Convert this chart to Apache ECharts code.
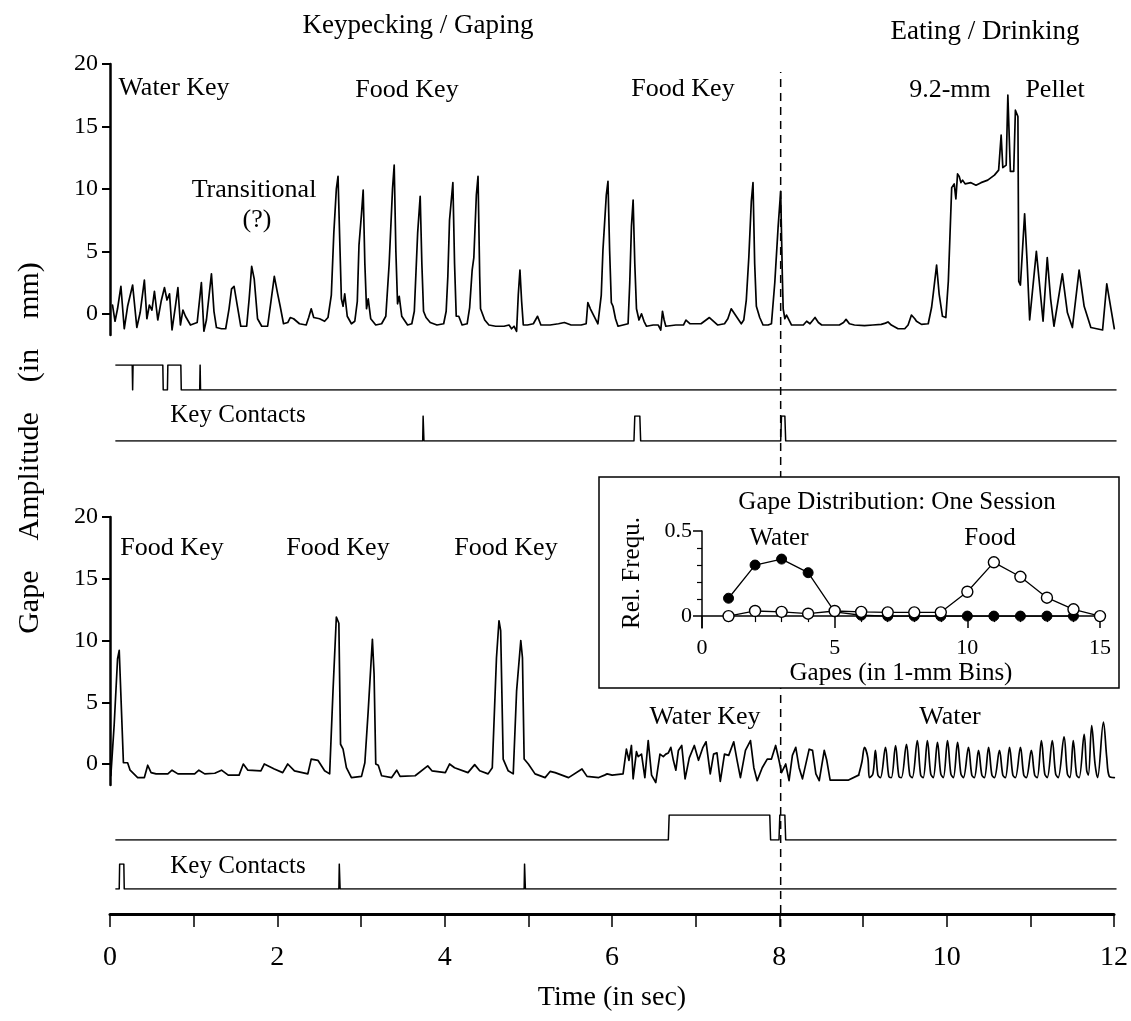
<!DOCTYPE html>
<html>
<head>
<meta charset="utf-8">
<script src="https://cdn.jsdelivr.net/npm/echarts@6/dist/echarts.min.js"></script>
<style>
  html, body { margin: 0; padding: 0; background: #fff; }
  #chart { width: 1131px; height: 1021px; }
</style>
</head>
<body>
<div id="chart"></div>
<script>
// ---- Gape traces: [time (s), gape (mm)] ----
const upperGape = [
  [0.03,0.7],[0.06,-0.6],[0.09,0.4],[0.13,2.2],[0.17,-1.2],[0.21,0.6],[0.27,2.3],[0.32,-1.1],[0.36,0.1],[0.41,2.7],
  [0.44,-0.4],[0.47,0.7],[0.50,0.3],[0.53,1.8],[0.57,-0.5],[0.61,1.0],[0.65,2.1],[0.68,1.1],[0.71,1.6],[0.74,-1.3],
  [0.78,0.6],[0.81,2.1],[0.84,-0.9],[0.87,0.3],[0.90,-0.2],[0.96,-0.9],[1.04,-0.7],[1.09,2.5],[1.12,-1.4],[1.15,-0.5],
  [1.21,3.2],[1.24,0.2],[1.27,-1.1],[1.33,-1.2],[1.38,-1.2],[1.42,0.4],[1.45,2.0],[1.48,2.2],[1.52,0.6],[1.56,-1.0],
  [1.63,-1.0],[1.66,1.2],[1.69,3.8],[1.72,2.8],[1.76,-0.4],[1.81,-1.0],[1.88,-1.0],[1.92,1.0],[1.96,3.0],[2.00,1.6],
  [2.03,0.6],[2.07,-0.8],[2.12,-0.7],[2.15,-0.3],[2.19,-0.4],[2.26,-0.8],[2.34,-0.9],[2.37,-0.3],[2.40,0.4],[2.43,-0.3],
  [2.50,-0.4],[2.56,-0.6],
  [2.60,-0.3],[2.64,1.5],[2.67,6.5],[2.70,10.0],[2.72,11.0],[2.74,6.0],[2.76,1.2],[2.78,0.6],[2.80,1.6],[2.83,-0.2],
  [2.88,-0.8],[2.92,-0.6],[2.95,1.0],[2.97,5.5],[3.00,8.0],[3.02,9.9],[3.04,4.0],[3.06,0.4],[3.08,1.2],[3.11,-0.4],
  [3.17,-0.9],[3.24,-0.8],[3.29,-0.2],[3.33,4.0],[3.37,10.0],[3.39,11.9],[3.41,5.0],[3.43,0.8],[3.45,1.4],[3.48,-0.2],
  [3.55,-0.9],[3.60,-0.8],[3.63,0.2],[3.67,6.5],[3.70,9.4],[3.72,4.0],[3.74,0.2],[3.77,-0.3],[3.82,-0.7],[3.90,-0.9],
  [3.98,-0.8],[4.01,0.2],[4.03,3.0],[4.05,7.5],[4.09,10.5],[4.11,4.0],[4.13,-0.2],[4.16,-0.2],[4.20,-0.9],[4.26,-0.8],
  [4.29,0.5],[4.32,3.5],[4.34,4.5],[4.37,9.5],[4.39,11.0],[4.41,3.0],[4.42,0.4],[4.44,0.3],[4.47,-0.5],[4.52,-0.9],
  [4.60,-1.0],[4.70,-1.0],[4.76,-0.9],[4.79,-1.2],[4.82,-1.0],[4.85,-1.4],[4.87,1.5],[4.89,3.5],[4.91,1.0],[4.93,-0.9],
  [4.98,-0.9],[5.05,-0.8],[5.10,-0.2],[5.14,-0.9],[5.25,-0.9],[5.35,-0.8],[5.42,-0.7],[5.50,-0.9],[5.62,-0.9],[5.68,-0.8],
  [5.70,0.9],[5.73,0.4],[5.76,0.0],[5.82,-0.8],[5.86,1.5],[5.88,5.1],[5.92,9.5],[5.94,10.6],[5.96,5.0],[5.98,0.9],
  [6.00,0.6],[6.03,-0.4],[6.06,-1.0],[6.12,-0.9],[6.18,-0.8],[6.20,2.5],[6.22,7.0],[6.24,9.1],[6.26,4.0],[6.28,0.4],
  [6.31,-0.5],[6.34,0.0],[6.37,-0.6],[6.40,-1.0],[6.48,-0.9],[6.54,-0.9],[6.57,-1.3],[6.59,0.2],[6.61,-0.5],[6.63,-1.0],
  [6.75,-0.9],[6.84,-0.9],[6.87,-0.5],[6.92,-0.8],[6.97,-0.8],[7.05,-0.8],[7.15,-0.3],[7.20,-0.6],[7.25,-0.9],[7.33,-0.8],
  [7.37,-0.4],[7.41,0.4],[7.46,-0.1],[7.53,-0.8],[7.56,-0.5],[7.59,1.1],[7.62,4.5],[7.65,9.0],[7.67,10.5],[7.69,4.0],
  [7.71,0.6],[7.75,-0.3],[7.79,-0.9],[7.85,-0.9],[7.89,-0.8],[7.93,2.5],[7.97,7.0],[8.00,9.8],[8.02,3.0],[8.03,0.4],
  [8.05,-0.4],[8.07,-0.1],[8.10,-0.5],[8.13,-0.9],[8.20,-0.9],[8.27,-0.9],[8.31,-0.6],[8.35,-0.8],[8.41,-0.3],[8.45,-0.7],
  [8.49,-0.9],[8.60,-0.9],[8.70,-0.9],[8.75,-0.7],[8.78,-0.45],[8.82,-0.8],[8.88,-0.9],[9.00,-0.95],[9.10,-0.9],[9.20,-0.85],
  [9.25,-0.75],[9.28,-0.65],[9.32,-0.9],[9.40,-1.2],[9.48,-1.2],[9.52,-0.9],[9.56,-0.1],[9.60,-0.4],[9.62,-0.6],[9.68,-0.85],
  [9.76,-0.8],[9.80,0.5],[9.82,1.6],[9.86,3.9],[9.89,1.6],[9.93,-0.2],[9.97,-0.3],[10.00,2.6],[10.04,10.1],[10.07,10.4],
  [10.09,9.2],[10.11,11.2],[10.13,11.0],[10.15,10.5],[10.17,10.7],[10.20,10.4],[10.27,10.5],[10.33,10.3],[10.39,10.5],[10.47,10.7],
  [10.55,11.1],[10.60,11.5],[10.63,14.3],[10.65,11.7],[10.69,11.9],[10.71,17.5],[10.74,11.4],[10.78,11.4],[10.80,16.3],[10.83,15.8],
  [10.84,2.6],[10.86,2.3],[10.91,8.0],[10.94,4.1],[10.97,-0.5],[11.05,5.0],[11.10,1.5],[11.13,-0.6],[11.18,4.5],[11.22,1.2],
  [11.26,-1.0],[11.36,3.2],[11.42,0.1],[11.48,-1.1],[11.56,3.5],[11.62,0.6],[11.70,-1.1],[11.84,-1.3],[11.89,2.4],[11.94,0.4],
  [11.98,-1.2]
];

// Lower record, key-pecking part (up to the start of drinking)
const lowerGape = [
  [0.01,-0.95],[0.05,3.2],[0.09,8.5],[0.11,9.2],[0.13,9.1],[0.16,0.1],[0.18,0.1],[0.21,0.1],[0.24,-0.5],[0.27,-0.7],
  [0.33,-1.1],[0.41,-1.1],[0.45,-0.1],[0.49,-0.7],[0.55,-0.8],[0.69,-0.8],[0.74,-0.5],[0.81,-0.8],[1.01,-0.8],[1.06,-0.5],
  [1.13,-0.8],[1.25,-0.75],[1.33,-0.5],[1.41,-0.9],[1.54,-0.9],[1.59,0.0],[1.645,-0.5],[1.80,-0.55],[1.84,0.0],[1.96,-0.4],
  [2.06,-0.7],[2.12,0.0],[2.20,-0.55],[2.36,-0.8],[2.40,0.4],[2.48,0.3],[2.56,-0.55],[2.62,-0.8],[2.66,5.9],[2.70,11.9],
  [2.73,11.4],[2.75,1.6],[2.78,1.2],[2.82,-0.3],[2.88,-1.1],[3.00,-1.0],[3.04,0.1],[3.08,4.3],[3.13,10.1],[3.15,7.3],
  [3.17,0.0],[3.20,-0.1],[3.24,-0.95],[3.36,-1.1],[3.42,-0.5],[3.46,-1.0],[3.64,-0.95],[3.79,-0.15],[3.84,-0.55],[4.00,-0.7],
  [4.05,0.0],[4.11,-0.3],[4.27,-0.7],[4.35,-0.05],[4.41,-0.55],[4.51,-0.8],[4.56,-0.3],[4.61,8.6],[4.64,11.6],[4.66,10.8],
  [4.69,0.4],[4.75,-0.55],[4.81,-0.8],[4.85,5.9],[4.90,10.0],[4.92,8.6],[4.94,0.4],[4.99,0.0],[5.07,-0.8],[5.19,-1.1],
  [5.25,-0.6],[5.31,-0.7],[5.47,-1.1],[5.63,-0.4],[5.69,-1.0],[5.83,-1.1],[5.90,-0.9],[5.93,-0.8],[5.99,-0.9],[6.12,-0.8],
  [6.16,1.2],[6.19,0.3],[6.22,1.5],[6.24,-1.2],[6.28,1.0],[6.30,0.6],[6.34,0.8],[6.38,-1.1],[6.42,1.9],[6.46,-0.9],
  [6.51,-1.5],[6.56,0.8],[6.60,0.6],[6.63,0.8],[6.66,0.9],[6.69,1.35],[6.72,0.3],[6.75,-0.5],[6.78,1.1],[6.82,1.5],
  [6.86,-1.2],[6.91,0.5],[6.97,1.5],[7.02,0.3],[7.07,1.3],[7.11,1.8],[7.16,-0.8],[7.20,0.8],[7.24,0.9],[7.28,-1.4],
  [7.33,0.8],[7.38,0.7],[7.44,1.8],[7.48,0.3],[7.52,-1.1],[7.58,1.1],[7.64,1.9],[7.68,-0.3],[7.72,-1.35],[7.78,-0.3],
  [7.84,0.4],[7.89,0.4],[7.94,1.5],[7.98,0.3],[8.01,-0.7],[8.06,0.0],[8.10,-1.35],[8.14,0.7],[8.18,1.35],[8.22,-0.3],
  [8.26,-1.2],[8.34,1.2],[8.38,1.1],[8.42,-0.8],[8.46,-1.35],[8.52,1.1],[8.55,0.3],[8.59,-1.3],[8.70,-1.3],[8.81,-1.3],
  [8.93,-0.9]
];

// Lower record, drinking part (rhythmic licking cycles)
const lowerDrink = [
  [8.93,-0.9],[8.97,0.2],[9.00,1.35],[9.04,0.5],[9.06,-1.1],[9.10,-0.8],[9.13,1.1],[9.16,-0.9],[9.19,-1.1],[9.25,1.35],
  [9.29,-1.0],[9.32,-1.1],[9.37,1.5],[9.41,-1.0],[9.44,-1.1],[9.50,1.6],[9.54,-0.9],[9.57,-1.1],[9.63,1.9],[9.67,-0.9],
  [9.70,-1.1],[9.75,1.9],[9.79,-0.8],[9.82,-1.1],[9.87,1.75],[9.91,-0.8],[9.94,-1.1],[9.99,1.9],[10.03,-0.8],[10.06,-1.1],
  [10.11,1.75],[10.15,-0.8],[10.18,-1.1],[10.24,1.35],[10.28,-0.9],[10.31,-1.1],[10.36,1.1],[10.40,-0.9],[10.43,-1.1],[10.48,1.35],
  [10.52,-0.9],[10.55,-1.1],[10.61,1.1],[10.65,-0.9],[10.68,-1.1],[10.73,1.35],[10.77,-0.9],[10.80,-1.1],[10.86,1.35],[10.90,-0.9],
  [10.93,-1.1],[10.99,1.1],[11.03,-0.9],[11.06,-1.1],[11.11,1.9],[11.15,-0.8],[11.18,-1.1],[11.24,1.9],[11.28,-0.8],[11.31,-1.1],
  [11.38,2.2],[11.42,-0.8],[11.45,-1.1],[11.49,1.9],[11.53,-0.9],[11.56,-1.1],[11.62,2.4],[11.65,-0.5],[11.67,-0.9],[11.71,3.1],
  [11.75,0.0],[11.78,-1.1],[11.85,3.4],[11.89,0.5],[11.92,-1.0],[11.98,-1.1]
];

// ---- Key-contact channels: [time (s), state 0/1] ----
const upperKeyA = [[0.07,1],[0.265,1],[0.27,0],[0.275,1],[0.63,1],[0.635,0],[0.685,0],[0.69,1],[0.845,1],[0.85,0],[1.07,0],[1.075,1],[1.08,0],[12,0]];
const upperKeyB = [[0.07,0],[3.73,0],[3.735,1],[3.745,0],[6.25,0],[6.26,1],[6.32,1],[6.33,0],[8.0,0],[8.01,1],[8.05,1],[8.06,0],[12,0]];
const lowerKeyA = [[0.07,0],[6.66,0],[6.67,1],[7.87,1],[7.88,0],[7.98,0],[7.99,1],[8.05,1],[8.06,0],[12,0]];
const lowerKeyB = [[0.07,0],[0.11,0],[0.115,1],[0.165,1],[0.17,0],[2.73,0],[2.735,1],[2.745,0],[4.94,0],[4.945,1],[4.955,0],[12,0]];

// ---- Inset: gape distribution, one session ----
const gapeBins  = [1,2,3,4,5,6,7,8,9,10,11,12,13,14,15];
const waterFreq = [0.105,0.30,0.335,0.255,0.025,0.005,0,0,0,0,0,0,0,0];
const foodFreq  = [0,0.03,0.025,0.014,0.03,0.025,0.022,0.022,0.022,0.143,0.316,0.231,0.108,0.04,0];

// ---- Tick values ----
const gapeTicks  = [0,5,10,15,20];
const timeTicks  = [0,1,2,3,4,5,6,7,8,9,10,11,12];
const timeLabels = [0,2,4,6,8,10,12];
const freqTicks  = [0,0.5];
const freqMinor  = [0.1,0.2,0.3,0.4];
const markerTime = 8;

const INK = '#000';
const SERIF = 'Liberation Serif';
const L = 110, R = 15;

const hiddenX = (g, max) => ({ type: 'value', gridIndex: g, min: 0, max: max || 12, show: false });
const hiddenY = (g, min, max) => ({ type: 'value', gridIndex: g, min: min, max: max, show: false });

const gapeY = (g) => ({
  type: 'value', gridIndex: g, min: -1.7, max: 20,
  axisLine: { show: true, lineStyle: { color: INK, width: 2.5 } },
  axisTick: { show: true, customValues: gapeTicks, length: 8, lineStyle: { color: INK, width: 2 } },
  axisLabel: { customValues: gapeTicks, color: INK, fontFamily: SERIF, fontSize: 24, margin: 12 },
  splitLine: { show: false }
});

const trace = (name, xi, data, w, smooth) => ({
  type: 'line', name: name, xAxisIndex: xi, yAxisIndex: xi, data: data,
  symbol: 'none', animation: false, z: 2, smooth: smooth || false,
  lineStyle: { color: INK, width: w || 1.7, join: 'round', cap: 'round' }
});

const pairs = (xs, ys) => ys.map((v, i) => [xs[i], v]);

const labels = [
  ['Keypecking / Gaping', 418, 26, 27],
  ['Eating / Drinking', 985, 32, 27],
  ['Water Key', 174, 88, 26],
  ['Food Key', 407, 90, 26],
  ['Transitional', 254, 190, 26],
  ['(?)', 257, 220, 26],
  ['Food Key', 683, 89, 26],
  ['9.2-mm', 950, 90, 26],
  ['Pellet', 1055, 90, 26],
  ['Key Contacts', 238, 415, 25],
  ['Food Key', 172, 548, 26],
  ['Food Key', 338, 548, 26],
  ['Food Key', 506, 548, 26],
  ['Water Key', 705, 717, 26],
  ['Water', 950, 717, 26],
  ['Key Contacts', 238, 866, 25],
  ['Gape Distribution: One Session', 897, 502, 25],
  ['Water', 779, 538, 25],
  ['Food', 990, 538, 25]
];

const textEl = (t, x, y, size, rot) => ({
  type: 'text', x: x, y: y, rotation: rot || 0, z: 20,
  style: {
    text: t, fill: INK, font: size + 'px "' + SERIF + '"',
    textAlign: 'center', textVerticalAlign: 'middle', align: 'center', verticalAlign: 'middle'
  }
});

const option = {
  animation: false,
  backgroundColor: '#fff',
  textStyle: { fontFamily: SERIF, color: INK },
  grid: [
    { left: L, right: R, top: 64, height: 271 },    // 0 upper gape
    { left: L, right: R, top: 365, height: 25 },    // 1 upper key A
    { left: L, right: R, top: 416, height: 25 },    // 2 upper key B
    { left: L, right: R, top: 517, height: 268 },   // 3 lower gape
    { left: L, right: R, top: 815, height: 25 },    // 4 lower key A
    { left: L, right: R, top: 864, height: 25 },    // 5 lower key B
    { left: L, right: R, top: 890, height: 24 },    // 6 time axis
    { left: L, right: R, top: 72, height: 855 },    // 7 event marker
    { left: 702, right: 31, top: 531, height: 97 }  // 8 inset
  ],
  xAxis: [
    hiddenX(0), hiddenX(1), hiddenX(2), hiddenX(3), hiddenX(4), hiddenX(5),
    {
      type: 'value', gridIndex: 6, min: 0, max: 12,
      axisLine: { show: true, onZero: false, lineStyle: { color: INK, width: 3 } },
      axisTick: { show: true, customValues: timeTicks, length: 13, lineStyle: { color: INK, width: 1.5 } },
      axisLabel: { customValues: timeLabels, color: INK, fontFamily: SERIF, fontSize: 28, margin: 30 },
      splitLine: { show: false },
      name: 'Time (in sec)', nameLocation: 'middle', nameGap: 70,
      nameTextStyle: { color: INK, fontFamily: SERIF, fontSize: 28 }
    },
    hiddenX(7),
    {
      type: 'value', gridIndex: 8, min: 0, max: 15, interval: 5, z: 6,
      axisLine: { show: true, onZero: true, onZeroAxisIndex: 8, lineStyle: { color: INK, width: 1.5 } },
      axisTick: { show: true, length: 12, lineStyle: { color: INK, width: 1.5 } },
      minorTick: { show: true, splitNumber: 5, length: 6, lineStyle: { color: INK, width: 1.2 } },
      axisLabel: { color: INK, fontFamily: SERIF, fontSize: 22, margin: 9 },
      splitLine: { show: false },
      name: 'Gapes (in 1-mm Bins)', nameLocation: 'middle', nameGap: 33,
      nameTextStyle: { color: INK, fontFamily: SERIF, fontSize: 25 }
    }
  ],
  yAxis: [
    gapeY(0), hiddenY(1, 0, 1), hiddenY(2, 0, 1), gapeY(3), hiddenY(4, 0, 1), hiddenY(5, 0, 1),
    hiddenY(6, 0, 1), hiddenY(7, 0, 1),
    {
      type: 'value', gridIndex: 8, min: -0.07, max: 0.5, z: 6, position: 'left',
      axisLine: { show: true, lineStyle: { color: INK, width: 1.5 } },
      axisTick: { show: true, customValues: freqTicks, length: 9, lineStyle: { color: INK, width: 1.5 } },
      axisLabel: { customValues: freqTicks, color: INK, fontFamily: SERIF, fontSize: 22, margin: 10 },
      splitLine: { show: false }
    },
    {
      type: 'value', gridIndex: 8, min: -0.07, max: 0.5, z: 6, position: 'left', offset: 0,
      axisLine: { show: false },
      axisTick: { show: true, customValues: freqMinor, length: 5, lineStyle: { color: INK, width: 1.2 } },
      axisLabel: { show: false, customValues: freqMinor },
      splitLine: { show: false }
    }
  ],
  graphic: {
    elements: [
      {
        type: 'rect', z: 3,
        shape: { x: 599, y: 477, width: 520, height: 211 },
        style: { fill: '#fff', stroke: INK, lineWidth: 1.5 }
      },
      textEl('Gape    Amplitude    (in    mm)', 30, 448, 30, Math.PI / 2),
      textEl('Rel. Frequ.', 632, 573, 25, Math.PI / 2)
    ].concat(labels.map(l => textEl(l[0], l[1], l[2], l[3])))
  },
  series: [
    trace('Upper gape', 0, upperGape),
    trace('Upper key A', 1, upperKeyA, 1.5),
    trace('Upper key B', 2, upperKeyB, 1.5),
    trace('Lower gape', 3, lowerGape),
    trace('Lower drinking', 3, lowerDrink, 1.7, 0.35),
    trace('Lower key A', 4, lowerKeyA, 1.5),
    trace('Lower key B', 5, lowerKeyB, 1.5),
    {
      type: 'line', name: 'Marker', xAxisIndex: 7, yAxisIndex: 7, z: 1,
      data: [[markerTime, 0], [markerTime, 1]], symbol: 'none',
      lineStyle: { color: INK, width: 1.5, type: [8, 6] }
    },
    {
      type: 'line', name: 'Water', xAxisIndex: 8, yAxisIndex: 8, z: 7,
      data: pairs(gapeBins, waterFreq), symbol: 'circle', symbolSize: 10,
      itemStyle: { color: INK, borderColor: INK, borderWidth: 1 },
      lineStyle: { color: INK, width: 1.3 }
    },
    {
      type: 'line', name: 'Food', xAxisIndex: 8, yAxisIndex: 8, z: 8,
      data: pairs(gapeBins, foodFreq), symbol: 'circle', symbolSize: 11,
      itemStyle: { color: '#fff', borderColor: INK, borderWidth: 1.4 },
      lineStyle: { color: INK, width: 1.3 }
    }
  ]
};

const chart = echarts.init(document.getElementById('chart'), null, { renderer: 'canvas' });
chart.setOption(option);
</script>
</body>
</html>
